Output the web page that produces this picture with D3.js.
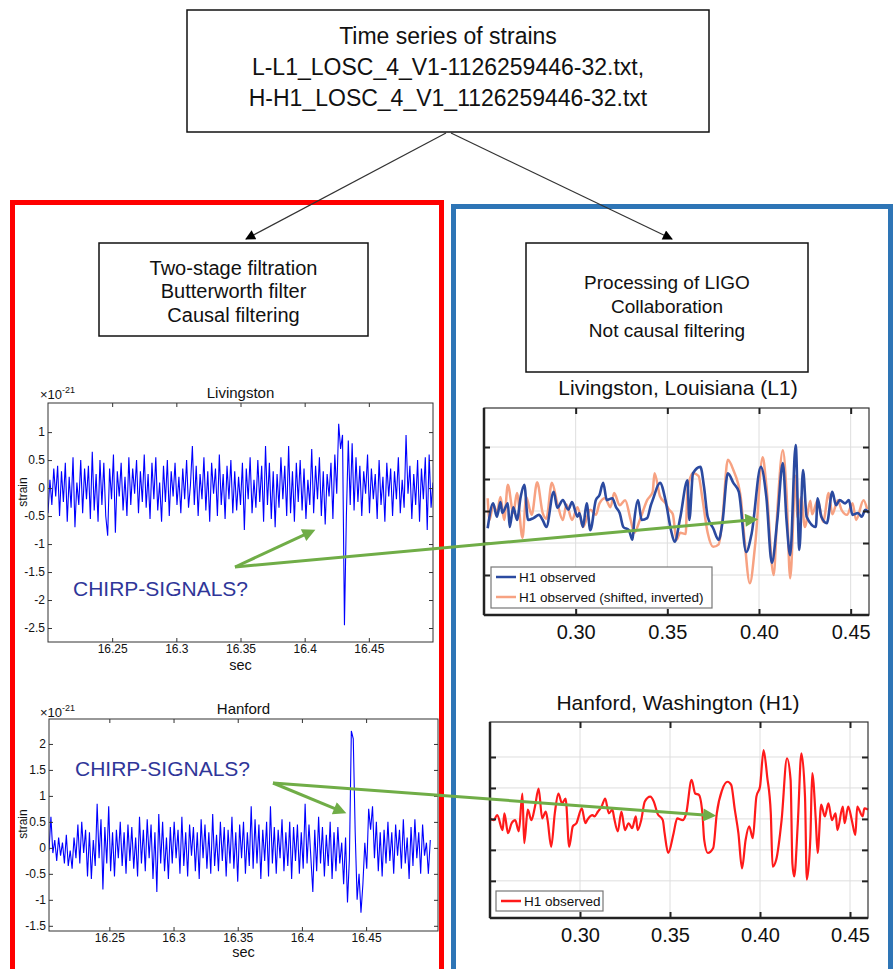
<!DOCTYPE html>
<html>
<head>
<meta charset="utf-8">
<script src="https://cdn.jsdelivr.net/npm/d3@7"></script>
<style>
  body { margin: 0; background: #fff; }
  text { font-family: "Liberation Sans", Arial, sans-serif; }
</style>
</head>
<body>
<div id="viz"></div>
<script>
// ---- data ----
var topBoxLines = ["Time series of strains", "L-L1_LOSC_4_V1-1126259446-32.txt,", "H-H1_LOSC_4_V1_1126259446-32.txt"];
var leftBoxLines = ["Two-stage filtration", "Butterworth filter", "Causal filtering"];
var rightBoxLines = ["Processing of LIGO", "Collaboration", "Not causal filtering"];

// left charts: strain (x1e-21), one sample every 1.5 ms from 16.2 s
var sampleStart = 16.2, sampleStep = 0.0015;
var livingstonStrain = [
  -0.45, 0.15, -0.3, 0.35, -0.15, 0.4, -0.5, 0.3, -0.25, 0.45,
  -0.6, 0.2, -0.35, 0.55, -0.7, 0.1, -0.3, 0.5, -0.45, 0.35,
  -0.2, 0.4, -0.55, 0.65, -0.4, 0.25, -0.6, 0.5, -0.3, 0.45,
  -0.5, -0.85, 0.35, -0.2, 0.6, -0.8, 0.3, -0.15, 0.45, -0.4,
  0.2, -0.5, 0.55, -0.3, 0.35, -0.1, 0.5, -0.45, 0.3, -0.25,
  0.6, -0.35, 0.25, -0.55, 0.45, -0.2, 0.55, -0.4, 0.1, -0.6,
  0.4, -0.25, 0.5, -0.5, 0.3, -0.15, 0.45, -0.3, 0.2, -0.45,
  0.35, -0.2, 0.5, -0.35, 0.05, 0.75, -0.3, 0.4, -0.5, 0.25,
  -0.2, 0.55, -0.4, 0.3, -0.6, 0.45, -0.1, 0.35, -0.5, 0.6,
  -0.3, 0.25, -0.55, 0.4, -0.2, 0.5, -0.45, 0.3, -0.4, 0.2,
  -0.3, 0.45, -0.75, 0.35, -0.2, 0.55, -0.45, 0.15, -0.35, 0.5,
  -0.25, 0.4, -0.6, 0.75, -0.3, 0.45, -0.55, 0.3, -0.7, 0.25,
  -0.35, 0.55, -0.2, 0.4, -0.5, 0.75, -0.45, 0.3, -0.6, 0.45,
  -0.25, 0.5, -0.4, 0.35, -0.55, 0.15, -0.3, 0.7, -0.45, 0.4,
  -0.2, 0.55, -0.5, 0.3, -0.65, 0.25, -0.15, 0.45, -0.55, 0.6,
  -0.1, 1.15, 0.7, 0.95, -2.45, -0.5, 0.85, -0.3, 0.8, -0.4,
  0.55, -0.25, 0.4, -0.5, 0.3, -0.1, 0.6, -0.45, 0.35, -0.2,
  0.25, -0.55, 0.5, -0.3, 0.2, -0.6, 0.45, -0.15, 0.35, -0.5,
  0.3, -0.2, 0.55, -0.45, 0.15, -0.35, 0.95, -0.1, 0.4, -0.55,
  0.25, -0.3, 0.5, -0.6, 0.35, -0.2, 0.55, -0.75, 0.6, -0.35, 0.1
];
var hanfordStrain = [
  0.0, 0.65, -0.05, 0.6, -0.1, 0.15, -0.25, 0.2, -0.15, 0.1,
  -0.3, 0.25, -0.35, -0.05, -0.4, 0.2, -0.2, 0.45, -0.3, 0.5,
  -0.1, 0.35, -0.55, 0.3, -0.6, 0.15, -0.35, 0.85, -0.2, 0.55,
  -0.8, 0.4, -0.3, 0.8, -0.45, 0.3, -0.55, 0.35, -0.2, 0.5,
  -0.35, 0.3, -0.5, 0.45, -0.25, 0.4, -0.4, 0.2, -0.55, 0.6,
  -0.3, 0.35, -0.45, 0.55, -0.2, 0.45, -0.6, 0.3, -0.85, 0.65,
  -0.3, 0.5, -0.45, 0.2, -0.6, 0.4, -0.3, 0.5, -0.2, 0.35,
  -0.5, 0.6, -0.35, 0.3, -0.55, 0.45, -0.15, 0.4, -0.45, 0.3,
  -0.6, 0.55, -0.2, 0.45, -0.4, 0.3, -0.5, 0.65, -0.35, 0.25,
  -0.45, 0.5, -0.25, 0.4, -0.55, 0.35, -0.3, 0.6, -0.4, 0.3,
  -0.65, 0.45, -0.2, 0.5, -0.5, 0.3, -0.35, 0.8, -0.4, 0.55,
  -0.3, 0.45, -0.6, 0.35, -0.25, 0.5, -0.55, 0.8, -0.3, 0.4,
  -0.5, 0.35, -0.2, 0.55, -0.45, 0.3, -0.35, 0.5, -0.6, 0.4,
  -0.25, 0.45, -0.5, 0.3, -0.4, 0.85, -0.3, 0.45, -0.2, -0.85,
  0.35, -0.45, 0.6, -0.3, 0.4, -0.55, 0.25, -0.35, 0.5, -0.6,
  0.3, -0.45, 0.4, -0.3, 0.1, -0.7, 0.2, -1.05, -0.2, 2.25,
  2.1, 0.3, -1.0, -0.5, -1.25, -0.7, 0.1, -0.4, 0.75, 0.35,
  0.8, -0.2, 0.5, -0.45, 0.3, -0.55, 0.35, -0.3, 0.5, -0.25,
  0.3, -0.5, 0.45, -0.15, 0.35, -0.4, 0.55, -0.3, 0.2, -0.6,
  0.4, -0.35, 0.55, -0.2, 0.3, -0.5, 0.45, -0.15, 0.1, -0.5, 0.15
];
var secTicks = [16.25, 16.3, 16.35, 16.4, 16.45];
var livingstonYTicks = [-2.5, -2, -1.5, -1, -0.5, 0, 0.5, 1];
var hanfordYTicks = [-1.5, -1, -0.5, 0, 0.5, 1, 1.5, 2];

// right charts (LIGO processing)
var l1Time = [0.252,0.255,0.257,0.259,0.260,0.263,0.264,0.266,0.268,0.270,0.272,0.274,0.277,0.280,0.282,0.284,0.288,0.290,0.293,0.296,0.298,0.301,0.302,0.304,0.306,0.308,0.311,0.313,0.315,0.317,0.320,0.322,0.324,0.326,0.329,0.331,0.332,0.334,0.336,0.339,0.341,0.342,0.346,0.349,0.352,0.354,0.357,0.361,0.362,0.364,0.368,0.370,0.372,0.375,0.378,0.380,0.383,0.386,0.389,0.393,0.396,0.401,0.404,0.407,0.410,0.413,0.415,0.417,0.420,0.422,0.424,0.426,0.431,0.432,0.434,0.437,0.440,0.442,0.444,0.447,0.449,0.451,0.454,0.456,0.458,0.460];
var l1Observed = [-0.27,0.12,-0.09,0.14,-0.03,0.12,-0.25,0.06,-0.14,0.22,0.41,-0.14,-0.11,-0.06,-0.14,-0.25,0.30,0.05,0.17,0.02,0.14,-0.09,-0.03,-0.25,0.12,-0.30,0.17,0.25,0.44,0.17,0.20,0.06,-0.03,-0.25,-0.30,-0.45,-0.14,0.17,-0.14,-0.11,0.09,0.17,0.44,0.17,-0.30,-0.48,-0.11,0.48,-0.14,0.59,0.69,0.38,-0.09,-0.27,-0.45,-0.19,0.59,0.44,0.30,-0.64,-0.35,0.69,0.22,-0.81,-0.14,0.75,-0.14,-0.69,1.03,-0.61,0.64,-0.09,-0.25,0.20,-0.09,-0.19,0.30,0.09,0.17,0.12,0.17,-0.06,-0.03,-0.09,0.02,-0.03];
var shiftedTime = [0.252,0.253,0.255,0.257,0.259,0.261,0.263,0.266,0.268,0.271,0.273,0.276,0.279,0.282,0.284,0.287,0.290,0.293,0.295,0.298,0.301,0.304,0.308,0.311,0.313,0.316,0.319,0.321,0.324,0.327,0.330,0.332,0.335,0.339,0.342,0.343,0.346,0.349,0.351,0.353,0.355,0.357,0.360,0.361,0.364,0.367,0.369,0.372,0.375,0.378,0.380,0.383,0.386,0.390,0.392,0.395,0.398,0.402,0.404,0.408,0.410,0.413,0.415,0.417,0.420,0.421,0.423,0.425,0.428,0.429,0.432,0.435,0.438,0.440,0.443,0.445,0.448,0.451,0.453,0.457,0.459];
var shiftedInverted = [0.20,-0.14,0.10,-0.02,0.22,-0.14,0.41,-0.03,0.28,-0.42,0.22,-0.06,0.45,-0.03,-0.12,0.44,0.12,-0.14,0.10,-0.14,0.06,-0.25,0.02,-0.06,0.12,0.20,0.06,0.28,0.09,0.17,-0.14,-0.34,-0.14,0.17,0.30,0.59,0.23,0.12,0.02,-0.05,-0.45,-0.34,-0.36,0.33,0.59,0.55,0.22,-0.34,-0.56,-0.52,-0.14,0.80,0.64,0.22,-0.41,-1.13,-0.50,0.84,0.40,-1.00,0.00,0.95,0.30,-1.05,0.55,-0.10,0.22,-0.25,0.16,-0.05,0.17,-0.17,0.28,-0.05,0.17,0.02,-0.06,0.12,-0.14,0.17,0.03];
var h1Time = [0.250,0.252,0.254,0.257,0.258,0.260,0.262,0.264,0.266,0.268,0.269,0.271,0.273,0.275,0.277,0.279,0.281,0.282,0.284,0.286,0.288,0.290,0.292,0.294,0.296,0.298,0.301,0.303,0.304,0.307,0.308,0.310,0.312,0.314,0.316,0.318,0.319,0.321,0.323,0.325,0.327,0.329,0.331,0.332,0.334,0.336,0.339,0.341,0.343,0.346,0.347,0.349,0.352,0.354,0.357,0.359,0.362,0.364,0.366,0.368,0.369,0.371,0.374,0.376,0.379,0.382,0.384,0.386,0.388,0.390,0.392,0.394,0.396,0.398,0.400,0.402,0.404,0.406,0.407,0.409,0.412,0.415,0.417,0.418,0.419,0.421,0.423,0.425,0.426,0.428,0.429,0.431,0.432,0.434,0.436,0.438,0.440,0.442,0.443,0.446,0.447,0.449,0.451,0.453,0.454,0.457,0.458,0.460];
var h1Observed = [0.01,-0.02,0.06,-0.18,0.09,-0.23,-0.07,-0.02,-0.20,0.41,-0.39,0.15,-0.02,0.20,0.49,0.01,0.12,-0.02,-0.45,0.09,0.41,0.25,0.33,-0.45,-0.12,-0.07,0.17,-0.07,-0.02,0.06,0.04,0.12,0.20,0.33,0.09,0.15,0.01,-0.20,0.12,-0.18,-0.07,-0.15,0.04,-0.18,-0.02,0.28,0.36,0.28,0.09,-0.02,-0.23,-0.55,-0.23,0.01,-0.02,0.09,0.63,0.41,0.39,0.09,-0.34,-0.55,-0.47,0.09,0.47,0.60,0.55,0.15,-0.23,-0.80,-0.34,-0.12,-0.31,0.36,0.52,1.11,0.68,0.09,-0.77,-0.66,-0.02,0.98,0.63,-0.72,-0.93,-0.07,1.06,0.36,-0.98,-0.29,0.74,-0.02,-0.55,0.23,0.04,0.25,-0.02,0.09,-0.18,0.20,-0.07,0.20,-0.02,-0.26,0.20,0.04,0.17,0.15];
var rightTimeTicks = [0.30, 0.35, 0.40, 0.45];
var rightYTicks = [-1, -0.5, 0, 0.5, 1];

// ---- svg ----
var width = 896, height = 969;
var svg = d3.select('#viz').append('svg')
  .attr('width', width)
  .attr('height', height);

var defs = svg.append('defs');
defs.append('marker').attr('id', 'blackHead')
  .attr('viewBox', '0 0 10 10').attr('refX', 9).attr('refY', 5)
  .attr('markerUnits', 'userSpaceOnUse').attr('markerWidth', 13).attr('markerHeight', 10)
  .attr('orient', 'auto')
  .append('path').attr('d', 'M0,0L10,5L0,10Z').attr('fill', '#000');
defs.append('marker').attr('id', 'greenHead')
  .attr('viewBox', '0 0 10 10').attr('refX', 6).attr('refY', 5)
  .attr('markerUnits', 'userSpaceOnUse').attr('markerWidth', 17).attr('markerHeight', 13)
  .attr('orient', 'auto')
  .append('path').attr('d', 'M0,0L10,5L0,10Z').attr('fill', '#70ad47');

// frames
svg.append('rect').attr('x', 12.5).attr('y', 202.5).attr('width', 429).attr('height', 800)
  .attr('fill', 'none').attr('stroke', '#ff0000').attr('stroke-width', 5);
svg.append('rect').attr('x', 453.5).attr('y', 206.5).attr('width', 437).attr('height', 800)
  .attr('fill', 'none').attr('stroke', '#2e75b6').attr('stroke-width', 5);

function textBox(x, y, w, h, lines, size, baselines) {
  svg.append('rect').attr('x', x).attr('y', y).attr('width', w).attr('height', h)
    .attr('fill', '#fff').attr('stroke', '#111').attr('stroke-width', 1.5);
  svg.selectAll(null).data(lines).enter().append('text')
    .attr('x', x + w / 2)
    .attr('y', (d, i) => baselines[i])
    .attr('text-anchor', 'middle')
    .attr('font-size', size)
    .attr('fill', '#111')
    .text(d => d);
}

// connector arrows
svg.append('line').attr('x1', 446).attr('y1', 133).attr('x2', 246).attr('y2', 239)
  .attr('stroke', '#333').attr('stroke-width', 1.2).attr('marker-end', 'url(#blackHead)');
svg.append('line').attr('x1', 451).attr('y1', 133).attr('x2', 672).attr('y2', 239)
  .attr('stroke', '#333').attr('stroke-width', 1.2).attr('marker-end', 'url(#blackHead)');

textBox(187, 10, 522, 122, topBoxLines, 23, [44, 75, 105.5]);
textBox(99, 243, 269, 93, leftBoxLines, 20, [275, 298, 322]);
textBox(526, 243, 282, 129, rightBoxLines, 19, [288.5, 312.5, 336.5]);

// ---- left (Butterworth) charts ----
function leftChart(o) {
  var g = svg.append('g');
  var x = d3.scaleLinear().domain(o.xDomain).range([o.x0, o.x1]);
  var y = d3.scaleLinear().domain(o.yDomain).range([o.y1, o.y0]);
  var fmt = d => String(d);

  g.append('clipPath').attr('id', o.id)
    .append('rect').attr('x', o.x0).attr('y', o.y0).attr('width', o.x1 - o.x0).attr('height', o.y1 - o.y0);

  g.append('path').datum(o.values)
    .attr('clip-path', `url(#${o.id})`)
    .attr('d', d3.line().x((d, i) => x(sampleStart + i * sampleStep)).y(d => y(d)))
    .attr('fill', 'none').attr('stroke', '#0000ff').attr('stroke-width', 1.1);

  g.append('rect').attr('x', o.x0).attr('y', o.y0).attr('width', o.x1 - o.x0).attr('height', o.y1 - o.y0)
    .attr('fill', 'none').attr('stroke', '#333').attr('stroke-width', 1);

  var axes = [
    g.append('g').attr('transform', `translate(0,${o.y1})`)
      .call(d3.axisBottom(x).tickValues(secTicks).tickSize(-4).tickPadding(2).tickFormat(fmt)),
    g.append('g').attr('transform', `translate(0,${o.y0})`)
      .call(d3.axisTop(x).tickValues(secTicks).tickSize(-4).tickFormat('')),
    g.append('g').attr('transform', `translate(${o.x0},0)`)
      .call(d3.axisLeft(y).tickValues(o.yTicks).tickSize(-4).tickPadding(3).tickFormat(fmt)),
    g.append('g').attr('transform', `translate(${o.x1},0)`)
      .call(d3.axisRight(y).tickValues(o.yTicks).tickSize(-4).tickFormat(''))
  ];
  axes.forEach(a => {
    a.select('.domain').remove();
    a.selectAll('line').attr('stroke', '#333');
    a.selectAll('text').attr('font-size', 12).attr('fill', '#111')
      .style('font-family', '"Liberation Sans", Arial, sans-serif');
  });

  g.append('text').attr('x', (o.x0 + o.x1) / 2).attr('y', o.titleY)
    .attr('text-anchor', 'middle').attr('font-size', 15).attr('fill', '#111').text(o.title);
  var exp = g.append('text').attr('x', 40).attr('y', o.expY).attr('font-size', 13).attr('fill', '#111');
  exp.append('tspan').text('\u00d710');
  exp.append('tspan').attr('font-size', 9).attr('dy', -6).text('-21');
  g.append('text').attr('transform', `translate(27,${o.strainY}) rotate(-90)`)
    .attr('text-anchor', 'middle').attr('font-size', 12).attr('fill', '#111').text('strain');
  g.append('text').attr('x', (o.x0 + o.x1) / 2).attr('y', o.secY)
    .attr('text-anchor', 'middle').attr('font-size', 14.5).attr('fill', '#111').text('sec');
}

leftChart({
  id: 'clipL', values: livingstonStrain, title: 'Livingston',
  xDomain: [16.2, 16.5], yDomain: [-2.75, 1.52], yTicks: livingstonYTicks,
  x0: 48, x1: 433, y0: 403, y1: 642,
  titleY: 398, expY: 399, strainY: 492, secY: 670
});
leftChart({
  id: 'clipH', values: hanfordStrain, title: 'Hanford',
  xDomain: [16.203, 16.506], yDomain: [-1.6, 2.48], yTicks: hanfordYTicks,
  x0: 49, x1: 438, y0: 719, y1: 931,
  titleY: 714, expY: 717, strainY: 824, secY: 957
});

// ---- right (LIGO) charts ----
function rightChart(o) {
  var g = svg.append('g');
  var x = d3.scaleLinear().domain([0.25, 0.46]).range([o.x0, o.x1]);
  var y = d3.scaleLinear().domain(o.yDomain).range([o.y1, o.y0]);

  g.append('g').selectAll('line').data(rightTimeTicks).enter().append('line')
    .attr('x1', d => x(d)).attr('x2', d => x(d)).attr('y1', o.y0).attr('y2', o.y1)
    .attr('stroke', '#dedede').attr('stroke-width', 1);
  g.append('g').selectAll('line').data(rightYTicks).enter().append('line')
    .attr('x1', o.x0).attr('x2', o.x1).attr('y1', d => y(d)).attr('y2', d => y(d))
    .attr('stroke', '#dedede').attr('stroke-width', 1);

  var line = d3.line().curve(d3.curveMonotoneX);
  o.series.forEach(s => {
    g.append('path').datum(d3.zip(s.t, s.v))
      .attr('d', line.x(d => x(d[0])).y(d => y(d[1])))
      .attr('fill', 'none').attr('stroke', s.color).attr('stroke-width', s.w)
      .attr('stroke-linejoin', 'round');
  });

  g.append('rect').attr('x', o.x0).attr('y', o.y0).attr('width', o.x1 - o.x0).attr('height', o.y1 - o.y0)
    .attr('fill', 'none').attr('stroke', '#333').attr('stroke-width', 1.2);
  g.append('line').attr('x1', o.x0).attr('x2', o.x0).attr('y1', o.y0).attr('y2', o.y1)
    .attr('stroke', '#222').attr('stroke-width', 2.5);
  g.append('line').attr('x1', o.x0).attr('x2', o.x1).attr('y1', o.y1).attr('y2', o.y1)
    .attr('stroke', '#222').attr('stroke-width', 2.5);

  var axes = [
    g.append('g').attr('transform', `translate(0,${o.y1})`)
      .call(d3.axisBottom(x).tickValues(rightTimeTicks).tickSize(-6).tickPadding(10).tickFormat(d3.format('.2f'))),
    g.append('g').attr('transform', `translate(0,${o.y0})`)
      .call(d3.axisTop(x).tickValues(rightTimeTicks).tickSize(-6).tickFormat('')),
    g.append('g').attr('transform', `translate(${o.x0},0)`)
      .call(d3.axisLeft(y).tickValues(rightYTicks).tickSize(-6).tickFormat('')),
    g.append('g').attr('transform', `translate(${o.x1},0)`)
      .call(d3.axisRight(y).tickValues(rightYTicks).tickSize(-6).tickFormat(''))
  ];
  axes.forEach(a => {
    a.select('.domain').remove();
    a.selectAll('line').attr('stroke', '#222').attr('stroke-width', 2);
    a.selectAll('text').attr('font-size', 20).attr('fill', '#111')
      .style('font-family', '"Liberation Sans", Arial, sans-serif');
  });

  g.append('text').attr('x', 678).attr('y', o.titleY).attr('text-anchor', 'middle')
    .attr('font-size', 21).attr('fill', '#111').text(o.title);

  // legend
  var lg = o.legend;
  g.append('rect').attr('x', lg.x).attr('y', lg.y).attr('width', lg.w).attr('height', lg.h)
    .attr('fill', '#fff').attr('stroke', '#777').attr('stroke-width', 1.2);
  lg.items.forEach((it, i) => {
    var yy = lg.y + 10 + i * 20;
    g.append('line').attr('x1', lg.x + 5).attr('x2', lg.x + 25).attr('y1', yy).attr('y2', yy)
      .attr('stroke', it.color).attr('stroke-width', 2.5);
    g.append('text').attr('x', lg.x + 28).attr('y', yy + 4.5).attr('font-size', 13.5)
      .attr('fill', '#111').text(it.label);
  });
}

rightChart({
  title: 'Livingston, Louisiana (L1)', titleY: 395,
  x0: 484, x1: 869, y0: 408, y1: 615, yDomain: [-1.625, 1.61],
  series: [
    { t: shiftedTime, v: shiftedInverted, color: '#f7a282', w: 2.5 },
    { t: l1Time, v: l1Observed, color: '#2b4aa0', w: 2.6 }
  ],
  legend: { x: 491, y: 567, w: 221, h: 41, items: [
    { label: 'H1 observed', color: '#2b4aa0' },
    { label: 'H1 observed (shifted, inverted)', color: '#f7a282' }
  ] }
});
rightChart({
  title: 'Hanford, Washington (H1)', titleY: 710,
  x0: 490, x1: 868, y0: 722, y1: 918, yDomain: [-1.6, 1.565],
  series: [
    { t: h1Time, v: h1Observed, color: '#ff1a1a', w: 2.2 }
  ],
  legend: { x: 496, y: 891, w: 107, h: 20, items: [
    { label: 'H1 observed', color: '#ff1a1a' }
  ] }
});

// ---- annotations ----
svg.append('text').attr('x', 73).attr('y', 596).attr('font-size', 21).attr('fill', '#2f3699').text('CHIRP-SIGNALS?');
svg.append('text').attr('x', 75).attr('y', 776).attr('font-size', 21).attr('fill', '#2f3699').text('CHIRP-SIGNALS?');

var greenArrows = [
  [[235, 567], [317, 529]],
  [[235, 567], [760, 519]],
  [[273, 783], [348, 814]],
  [[273, 783], [718, 816]]
];
greenArrows.forEach(a => {
  var dx = a[1][0] - a[0][0], dy = a[1][1] - a[0][1];
  var len = Math.sqrt(dx * dx + dy * dy);
  // stop the stroke short of the tip; the marker carries on to the tip
  var ex = a[1][0] - dx / len * 7, ey = a[1][1] - dy / len * 7;
  svg.append('line').attr('x1', a[0][0]).attr('y1', a[0][1]).attr('x2', ex).attr('y2', ey)
    .attr('stroke', '#70ad47').attr('stroke-width', 3).attr('marker-end', 'url(#greenHead)');
});
</script>
</body>
</html>
